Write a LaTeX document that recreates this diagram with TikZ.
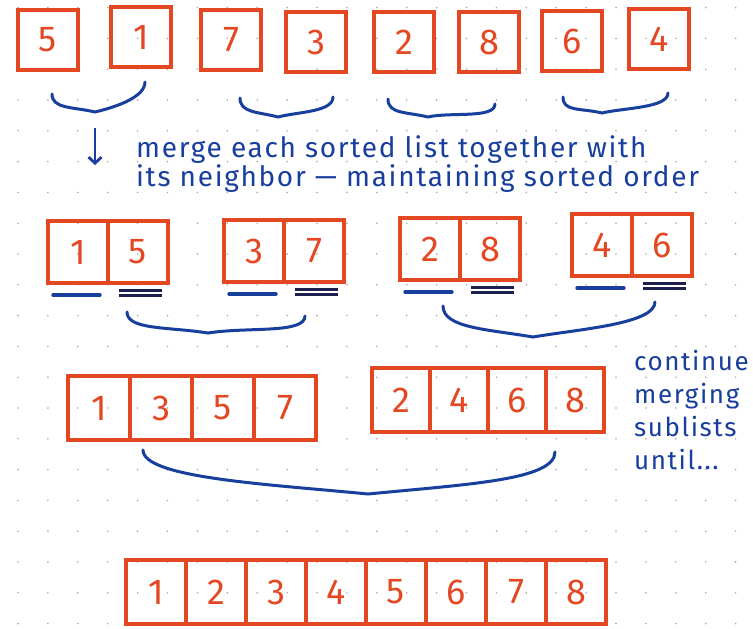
\documentclass[tikz,border=0pt]{standalone}
\usepackage{fontspec}
\setmainfont{Fira Sans}
\newfontfamily\handfont{Fira Sans}[LetterSpace=6.0]
\usetikzlibrary{arrows.meta,positioning,calc}
\definecolor{BoxRed}{RGB}{228,72,34}
\definecolor{InkBlue}{RGB}{24,62,158}
\definecolor{InkNavy}{RGB}{28,32,78}
\definecolor{DotGray}{RGB}{170,170,170}

% hand drawn curly brace: left, tip, right, drop, pull
\newcommand{\curly}[5]{%
  \draw[curlyline] #1 .. controls +(0,#4) and +(-#5,-#4*0.35) .. #2
    .. controls +(#5,-#4*0.35) and +(0,#4) .. #3;}

\begin{document}
\begin{tikzpicture}[
  x=1pt, y=-1pt,
  cell/.style={
    rectangle,
    draw=BoxRed,
    line width=3.2pt,
    outer sep=0pt,
    inner sep=0pt,
    minimum width=60pt,
    minimum height=60pt,
    text=BoxRed,
    font=\fontsize{36}{36}\selectfont
  },
  note/.style={
    text=InkBlue,
    align=left,
    inner sep=0pt,
    font=\handfont\fontsize{28}{29}\selectfont
  },
  curlyline/.style={draw=InkBlue, line width=3pt, line cap=round},
  underone/.style={draw=InkBlue, line width=3.4pt, line cap=round},
  undertwo/.style={draw=InkNavy, line width=2.4pt, double=white, double distance=2.6pt},
  downarrow/.style={-{Straight Barb[length=6pt,width=13pt]}, draw=InkBlue, line width=2.8pt}
]
\fill[white] (0,0) rectangle (753,629);
\useasboundingbox (0,0) rectangle (753,629);

% dotted paper
\foreach \i in {0,...,24}
  \foreach \j in {0,...,20}
    \fill[DotGray] (18+29.9*\i, 7.6+30.8*\j) circle (0.9pt);

% single items
\node[cell] (t5) at (48,40) {5};
\node[cell] (t1) at (141,37) {1};
\node[cell] (t7) at (231,40) {7};
\node[cell] (t3) at (316,42) {3};
\node[cell] (t2) at (404,42) {2};
\node[cell] (t8) at (489,42) {8};
\node[cell] (t6) at (572,41) {6};
\node[cell] (t4) at (659,39) {4};

\curly{(52,94)}{(95,112)}{(145,82)}{15}{22}
\curly{(240,98)}{(278,117)}{(333,97)}{15}{20}
\curly{(388,99)}{(428,117)}{(495,104)}{15}{22}
\curly{(563,97)}{(602,113)}{(668,93)}{15}{22}

\coordinate (arrtop) at (95,128);
\coordinate (arrbot) at (95,165);
\draw[downarrow] (arrtop) -- (arrbot);

\node[note, anchor=base west] (mergetext) at (136,186)
  {merge each sorted list together with\\its neighbor — maintaining sorted order};

% sorted pairs
\node[cell, minimum height=62pt] (p1) at (78,252) {1};
\node[cell, minimum height=62pt, right=0pt of p1] (p5) {5};
\node[cell, minimum height=62pt] (p3) at (254,251) {3};
\node[cell, minimum height=62pt, right=0pt of p3] (p7) {7};
\node[cell, minimum height=62pt] (p2) at (430,249) {2};
\node[cell, minimum height=62pt, right=0pt of p2] (p8) {8};
\node[cell, minimum height=62pt] (p4) at (602,245) {4};
\node[cell, minimum height=62pt, right=0pt of p4] (p6) {6};

\foreach \a/\b in {p1/p5,p3/p7,p2/p8,p4/p6} {
  \draw[underone] ([xshift=5pt,yshift=-12pt]\a.south west) -- ([xshift=-8pt,yshift=-12pt]\a.south east);
  \draw[undertwo] ([xshift=11pt,yshift=-10pt]\b.south west) -- ([xshift=-6pt,yshift=-10pt]\b.south east);
}

\curly{(127,312)}{(208,333)}{(305,316)}{18}{40}
\curly{(443,306)}{(533,337)}{(655,302)}{22}{45}

% sorted halves
\foreach \v [count=\i] in {1,3,5,7}
  \node[cell, minimum width=62pt, minimum height=64pt] (h\v) at (37+62*\i,408) {\v};
\foreach \v [count=\i] in {2,4,6,8}
  \node[cell, minimum width=58pt, minimum height=64pt] (h\v) at (343+58*\i,400) {\v};

\node[note, anchor=north west, font=\handfont\fontsize{26}{33}\selectfont] (conttext) at (634,350)
  {continue\\merging\\sublists\\until...};

\curly{(143,450)}{(368,494)}{(555,452)}{28}{100}

% fully sorted
\foreach \v [count=\i] in {1,...,8}
  \node[cell, minimum height=64pt] (f\v) at (96+60*\i,592) {\v};

\end{tikzpicture}
\end{document}
